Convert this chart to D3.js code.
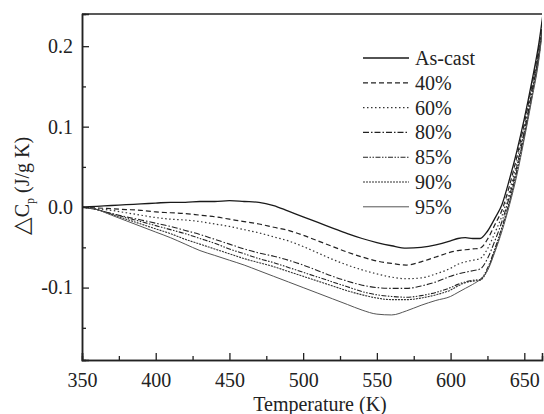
<!DOCTYPE html>
<html>
<head>
<meta charset="utf-8">
<script src="https://cdn.jsdelivr.net/npm/d3@7"></script>
<style>
  body { margin: 0; background: #fff; }
  svg text { font-family: "Liberation Serif", "Times New Roman", serif; fill: #222; }
</style>
</head>
<body>
<div id="root"></div>
<script>
// Temperatures (K) for the readings
const temps = [350, 360, 370, 380, 390, 400, 410, 420, 430, 440, 450, 460, 470, 480, 490,
  500, 510, 520, 530, 540, 550, 560, 570, 580, 590, 600, 605, 610, 615, 620,
  625, 630, 635, 640, 645, 650, 655, 660, 663];

// delta Cp (J/g K), one array per sample
const asCast = [0, 0.001, 0.002, 0.003, 0.004, 0.005, 0.006, 0.006, 0.007, 0.007, 0.008, 0.007, 0.006, 0.002, -0.005,
  -0.012, -0.019, -0.026, -0.033, -0.039, -0.044, -0.048, -0.051, -0.050, -0.047, -0.042, -0.039, -0.038, -0.039, -0.039,
  -0.030, -0.014, 0.004, 0.035, 0.070, 0.110, 0.155, 0.205, 0.245];
const cw40 = [0, -0.001, -0.002, -0.003, -0.004, -0.006, -0.007, -0.008, -0.010, -0.012, -0.015, -0.018, -0.021, -0.025, -0.029,
  -0.035, -0.042, -0.049, -0.056, -0.062, -0.067, -0.070, -0.072, -0.068, -0.062, -0.056, -0.054, -0.053, -0.052, -0.051,
  -0.040, -0.022, -0.003, 0.027, 0.063, 0.104, 0.150, 0.200, 0.240];
const cw60 = [0, -0.002, -0.004, -0.007, -0.010, -0.013, -0.015, -0.016, -0.018, -0.021, -0.024, -0.028, -0.032, -0.037, -0.042,
  -0.049, -0.057, -0.065, -0.072, -0.078, -0.083, -0.087, -0.089, -0.088, -0.083, -0.076, -0.071, -0.068, -0.066, -0.064,
  -0.052, -0.032, -0.010, 0.020, 0.057, 0.099, 0.146, 0.196, 0.238];
const cw80 = [0, -0.003, -0.008, -0.012, -0.016, -0.020, -0.024, -0.029, -0.034, -0.040, -0.046, -0.052, -0.057, -0.061, -0.066,
  -0.072, -0.079, -0.086, -0.092, -0.097, -0.100, -0.101, -0.101, -0.098, -0.093, -0.086, -0.083, -0.081, -0.079, -0.077,
  -0.064, -0.042, -0.017, 0.014, 0.051, 0.094, 0.142, 0.193, 0.236];
const cw85 = [0, -0.003, -0.008, -0.013, -0.018, -0.023, -0.028, -0.033, -0.039, -0.045, -0.052, -0.058, -0.064, -0.069, -0.075,
  -0.081, -0.087, -0.093, -0.099, -0.105, -0.109, -0.111, -0.112, -0.110, -0.106, -0.100, -0.096, -0.093, -0.091, -0.090,
  -0.076, -0.052, -0.024, 0.008, 0.046, 0.090, 0.138, 0.190, 0.234];
const cw90 = [0, -0.003, -0.009, -0.015, -0.021, -0.027, -0.033, -0.040, -0.046, -0.052, -0.058, -0.064, -0.069, -0.074, -0.080,
  -0.086, -0.092, -0.098, -0.104, -0.109, -0.113, -0.115, -0.115, -0.113, -0.109, -0.103, -0.098, -0.094, -0.092, -0.091,
  -0.078, -0.054, -0.026, 0.006, 0.044, 0.088, 0.136, 0.188, 0.233];
const cw95 = [0, -0.003, -0.010, -0.017, -0.024, -0.031, -0.038, -0.046, -0.054, -0.060, -0.066, -0.072, -0.079, -0.086, -0.093,
  -0.100, -0.107, -0.114, -0.121, -0.128, -0.133, -0.134, -0.129, -0.122, -0.116, -0.111, -0.106, -0.101, -0.096, -0.090,
  -0.079, -0.056, -0.029, 0.003, 0.040, 0.085, 0.133, 0.185, 0.232];

const names = ["As-cast", "40%", "60%", "80%", "85%", "90%", "95%"];
const values = [asCast, cw40, cw60, cw80, cw85, cw90, cw95];

// line look for each sample
const dashes = ["none", "5,3", "1.5,2.5", "6,2,1.5,2", "5,1.5,1.5,1.5,1.5,1.5", "2,1", "none"];
const colors = ["#1a1a1a", "#222", "#333", "#222", "#222", "#333", "#555"];
const widths = [1.3, 1.2, 1.2, 1.1, 1.1, 1.1, 1.0];

const xTicks = [350, 400, 450, 500, 550, 600, 650];
const yTicks = [-0.1, 0.0, 0.1, 0.2];

const width = 544, height = 414;
const plotLeft = 82, plotRight = 542, plotTop = 14, plotBottom = 360;
const serif = "'Liberation Serif', 'Times New Roman', serif";

const x = d3.scaleLinear().domain([350, 662]).range([plotLeft, plotRight]);
const y = d3.scaleLinear().domain([-0.19, 0.24]).range([plotBottom, plotTop]);

const svg = d3.select("#root").append("svg")
  .attr("width", width)
  .attr("height", height)
  .style("font-family", serif);

svg.append("clipPath").attr("id", "clip")
  .append("rect")
  .attr("x", plotLeft).attr("y", plotTop)
  .attr("width", plotRight - plotLeft).attr("height", plotBottom - plotTop);

// curves
const line = d3.line()
  .x((d, i) => x(temps[i]))
  .y(d => y(d))
  .curve(d3.curveMonotoneX);

svg.append("g").attr("clip-path", "url(#clip)")
  .selectAll("path")
  .data(values)
  .join("path")
  .attr("d", line)
  .attr("fill", "none")
  .attr("stroke", (d, i) => colors[i])
  .attr("stroke-width", (d, i) => widths[i])
  .attr("stroke-dasharray", (d, i) => dashes[i]);

// axes, ticks pointing inward; plain hyphen for negatives like the original
const fmtY = d => d3.format(".1f")(d).replace("\u2212", "-");
const xAxis = d3.axisBottom(x).tickValues(xTicks).tickSize(-7).tickPadding(13).tickFormat(d3.format("d"));
const xMinor = d3.axisBottom(x).tickValues(d3.range(375, 662, 50)).tickSize(-4).tickFormat("");
const yAxis = d3.axisLeft(y).tickValues(yTicks).tickSize(-7).tickPadding(9).tickFormat(fmtY);
const yMinor = d3.axisLeft(y).tickValues([-0.15, -0.05, 0.05, 0.15]).tickSize(-4).tickFormat("");

function styleAxis(g) {
  g.attr("font-family", null);
  g.select(".domain").attr("stroke", "#222").attr("stroke-width", 1.5);
  g.selectAll(".tick line").attr("stroke", "#222").attr("stroke-width", 1.3);
  g.selectAll(".tick text").attr("font-size", 20).attr("fill", "#222")
    .style("font-family", serif);
}

svg.append("g").attr("transform", `translate(0,${plotBottom})`).call(xAxis).call(styleAxis);
svg.append("g").attr("transform", `translate(0,${plotBottom})`).call(xMinor).call(styleAxis);
svg.append("g").attr("transform", `translate(${plotLeft},0)`).call(yAxis).call(styleAxis);
svg.append("g").attr("transform", `translate(${plotLeft},0)`).call(yMinor).call(styleAxis);

// top border
svg.append("line")
  .attr("x1", plotLeft).attr("x2", plotRight)
  .attr("y1", plotTop).attr("y2", plotTop)
  .attr("stroke", "#222").attr("stroke-width", 1.5);

// axis titles
svg.append("text")
  .attr("x", 320).attr("y", 411)
  .attr("text-anchor", "middle")
  .attr("font-size", 20)
  .text("Temperature (K)");

const yTitle = svg.append("text")
  .attr("transform", "translate(29,186) rotate(-90)")
  .attr("text-anchor", "middle")
  .attr("font-size", 20);
yTitle.append("tspan").attr("font-size", 23).text("\u25B3");
yTitle.append("tspan").text("C");
yTitle.append("tspan").attr("font-size", 12).attr("dy", 5).text("p");
yTitle.append("tspan").attr("dy", -5).text(" (J/g K)");

// legend
const legend = svg.append("g")
  .selectAll("g")
  .data(names)
  .join("g")
  .attr("transform", (d, i) => `translate(363,${58 + i * 24.8})`);

legend.append("line")
  .attr("x1", 0).attr("x2", 46)
  .attr("stroke", (d, i) => colors[i])
  .attr("stroke-width", (d, i) => widths[i])
  .attr("stroke-dasharray", (d, i) => dashes[i]);

legend.append("text")
  .attr("x", 52).attr("dy", "0.35em")
  .attr("font-size", 20)
  .text(d => d);
</script>
</body>
</html>
